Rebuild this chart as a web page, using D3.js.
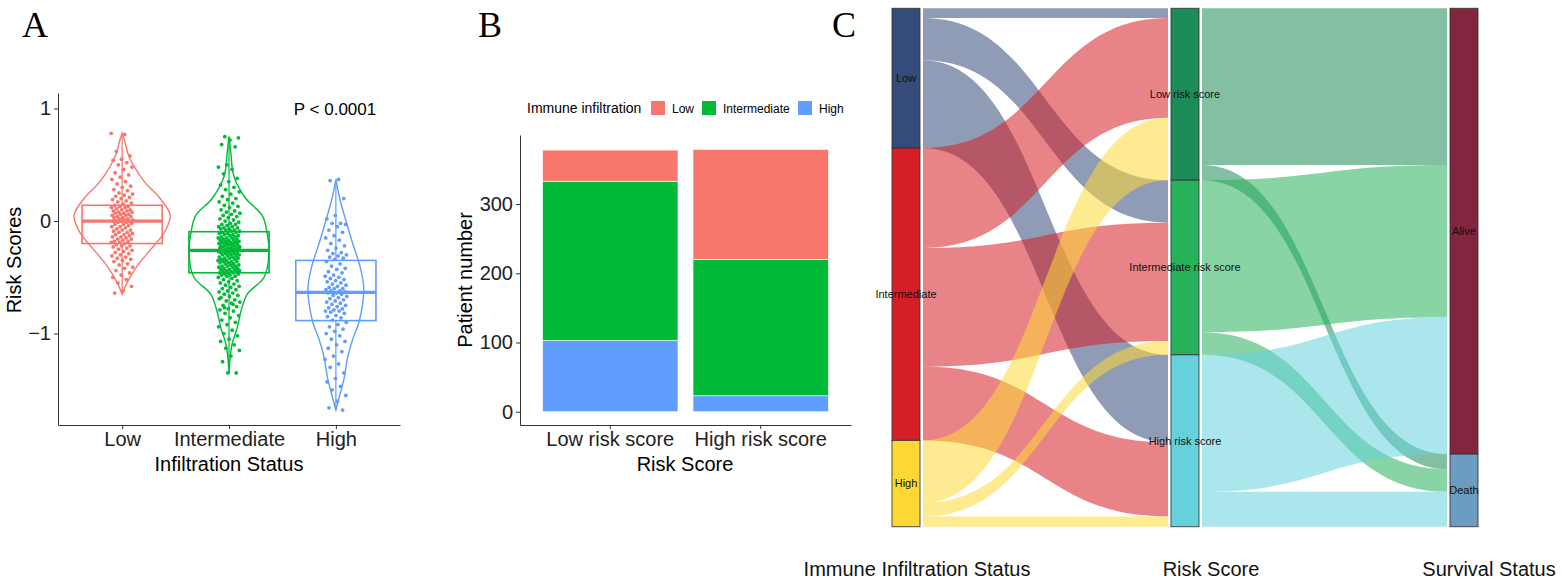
<!DOCTYPE html>
<html>
<head>
<meta charset="utf-8">
<script src="https://d3js.org/d3.v7.min.js"></script>
<style>
  body { margin: 0; background: #fff; }
  text { font-family: "Liberation Sans", Arial, sans-serif; }
</style>
</head>
<body>
<div id="chart"></div>
<script>
// ---------- data: panel A ----------
const infilGroups = ["Low", "Intermediate", "High"];
const infilColors = ["#F8766D", "#00BA38", "#619CFF"];

// box stats [min, q1, median, q3, max]
const boxLow = [-0.65, -0.2, 0.0, 0.14, 0.78];
const boxInt = [-1.35, -0.46, -0.26, -0.095, 0.75];
const boxHigh = [-1.68, -0.885, -0.635, -0.35, 0.37];

// violin density: [score, relative density]
const violinLow = [[0.78,0],[0.7,0.06],[0.6,0.12],[0.5,0.23],[0.35,0.46],[0.2,0.79],[0.05,1.0],[-0.1,0.88],[-0.25,0.6],[-0.4,0.31],[-0.55,0.1],[-0.65,0]];
const violinInt = [[0.75,0],[0.6,0.04],[0.4,0.1],[0.2,0.35],[0.05,0.69],[-0.1,0.79],[-0.3,0.83],[-0.5,0.73],[-0.65,0.38],[-0.8,0.25],[-0.95,0.17],[-1.1,0.06],[-1.35,0]];
const violinHigh = [[0.37,0],[0.2,0.08],[0,0.21],[-0.2,0.35],[-0.4,0.5],[-0.6,0.58],[-0.9,0.48],[-1.05,0.35],[-1.2,0.25],[-1.4,0.17],[-1.55,0.08],[-1.68,0]];

// patient risk scores (estimated)
const pointsLow = [0.78,0.77,0.62,0.58,0.55,0.54,0.52,0.5,0.48,0.46,0.43,0.41,0.39,0.37,0.35,0.33,0.31,0.3,0.28,0.27,0.25,0.24,0.23,0.22,0.21,0.2,0.19,0.18,0.17,0.16,0.15,
  0.14,0.13,0.13,0.12,0.12,0.11,0.1,0.1,0.09,0.09,0.08,0.08,0.07,0.07,0.06,0.06,0.05,0.05,0.04,0.04,0.03,0.03,0.02,0.02,0.01,0.01,0,0,0,0,
  -0.01,-0.01,-0.02,-0.03,-0.03,-0.04,-0.05,-0.05,-0.06,-0.07,-0.08,-0.08,-0.09,-0.1,-0.1,-0.11,-0.12,-0.12,-0.13,-0.14,-0.14,-0.15,-0.16,-0.16,-0.17,-0.18,-0.18,-0.19,-0.19,-0.2,
  -0.21,-0.22,-0.22,-0.23,-0.24,-0.25,-0.26,-0.27,-0.28,-0.29,-0.3,-0.31,-0.32,-0.33,-0.34,-0.35,-0.36,-0.38,-0.39,-0.41,-0.42,-0.44,-0.46,-0.48,-0.5,-0.52,-0.55,-0.58,-0.62,-0.64];
const pointsInt = [0.75,0.74,0.72,0.68,0.66,0.5,0.48,0.46,0.42,0.38,0.35,0.32,0.3,0.28,0.26,0.24,0.22,0.2,0.19,0.17,0.16,0.14,0.13,0.12,0.1,0.09,0.08,0.07,0.06,0.05,0.04,0.03,0.02,0.01,0,-0.01,-0.02,-0.03,-0.03,-0.04,-0.05,-0.05,-0.06,-0.06,-0.07,-0.07,-0.08,-0.08,-0.09,-0.09,
  -0.1,-0.1,-0.11,-0.11,-0.12,-0.12,-0.13,-0.13,-0.14,-0.14,-0.15,-0.15,-0.15,-0.16,-0.16,-0.17,-0.17,-0.17,-0.18,-0.18,-0.19,-0.19,-0.19,-0.2,-0.2,-0.2,-0.21,-0.21,-0.21,-0.22,-0.22,-0.22,-0.23,-0.23,-0.23,-0.24,-0.24,-0.24,-0.25,-0.25,-0.25,-0.25,-0.26,-0.26,-0.26,-0.27,-0.27,-0.27,-0.28,-0.28,
  -0.28,-0.29,-0.29,-0.3,-0.3,-0.3,-0.31,-0.31,-0.32,-0.32,-0.33,-0.33,-0.33,-0.34,-0.34,-0.35,-0.35,-0.36,-0.36,-0.36,-0.37,-0.37,-0.38,-0.38,-0.39,-0.39,-0.4,-0.4,-0.4,-0.41,-0.41,-0.42,-0.42,-0.43,-0.43,-0.43,-0.44,-0.44,-0.45,-0.45,-0.45,-0.46,-0.46,-0.46,-0.47,-0.47,-0.48,-0.48,-0.49,-0.49,
  -0.5,-0.51,-0.52,-0.53,-0.54,-0.55,-0.56,-0.57,-0.58,-0.59,-0.6,-0.61,-0.62,-0.63,-0.64,-0.65,-0.66,-0.67,-0.68,-0.7,-0.71,-0.72,-0.73,-0.75,-0.76,-0.78,-0.79,-0.8,-0.82,-0.84,-0.86,-0.88,-0.9,-0.92,-0.94,-0.97,-1.0,-1.02,-1.05,-1.07,-1.1,-1.13,-1.15,-1.2,-1.25,-1.35,-1.35,-0.69,-0.74,-0.77];
const pointsHigh = [0.37,0.36,0.2,0.05,0.02,-0.02,-0.02,-0.03,-0.05,-0.08,-0.1,-0.13,-0.15,-0.17,-0.2,-0.22,-0.24,-0.26,-0.28,-0.29,-0.3,-0.31,-0.32,-0.33,-0.34,
  -0.36,-0.38,-0.4,-0.42,-0.43,-0.45,-0.46,-0.48,-0.49,-0.5,-0.51,-0.52,-0.53,-0.54,-0.55,-0.56,-0.57,-0.58,-0.59,-0.6,-0.6,-0.61,-0.62,-0.62,-0.63,
  -0.64,-0.64,-0.65,-0.66,-0.67,-0.68,-0.69,-0.7,-0.71,-0.72,-0.73,-0.74,-0.75,-0.76,-0.77,-0.78,-0.79,-0.8,-0.8,-0.81,-0.82,-0.84,-0.85,-0.86,-0.88,
  -0.9,-0.92,-0.94,-0.96,-0.98,-1.0,-1.02,-1.05,-1.07,-1.1,-1.13,-1.16,-1.2,-1.23,-1.27,-1.3,-1.35,-1.4,-1.43,-1.47,-1.5,-1.55,-1.6,-1.66,-1.68];

const yTicksA = [-1, 0, 1];

// ---------- data: panel B ----------
const riskGroupsB = ["Low risk score", "High risk score"];
const barLow = [45, 159];
const barInt = [230, 197];
const barHigh = [103, 23];
const yTicksB = [0, 100, 200, 300];

// ---------- data: panel C ----------
const immuneNodes = ["Low", "Intermediate", "High"];
const riskNodes = ["Low risk score", "Intermediate risk score", "High risk score"];
const survivalNodes = ["Alive", "Death"];
// rows: immune group, cols: risk group
const immuneToRisk = [[14, 62, 128], [146, 173, 108], [91, 20, 15]];
// rows: risk group, cols: survival
const riskToSurvival = [[229, 22], [222, 33], [200, 51]];
const immuneColors = ["#354B79", "#D51F27", "#FDD835"];
const riskColors = ["#1D8C58", "#27B15B", "#66D1DD"];
const survivalColors = ["#82253F", "#6D9CC3"];
const columnTitles = ["Immune Infiltration Status", "Risk Score", "Survival Status"];

const svg = d3.select("#chart").append("svg")
    .attr("width", 1562)
    .attr("height", 584);

// panel letters
[["A", 22], ["B", 478], ["C", 832]].forEach(([t, x]) => {
    svg.append("text")
        .attr("x", x).attr("y", 37)
        .style("font-family", "'Liberation Serif', 'Times New Roman', serif")
        .style("font-size", "36px")
        .text(t);
});

// ===========================
// PANEL A
// ===========================
const gA = svg.append("g");
const xA = d3.scalePoint().domain(infilGroups).range([58, 400]).padding(0.6);
const yA = d3.scaleLinear().domain([-1.813, 1.138]).range([425, 93]);
const stepA = xA.step();

const groupsA = [
    { name: "Low", box: boxLow, violin: violinLow, pts: pointsLow },
    { name: "Intermediate", box: boxInt, violin: violinInt, pts: pointsInt },
    { name: "High", box: boxHigh, violin: violinHigh, pts: pointsHigh }
];

groupsA.forEach((g, gi) => {
    const cx = xA(g.name);
    const col = infilColors[gi];
    const half = 0.45 * stepA;

    const area = d3.area()
        .curve(d3.curveCatmullRom)
        .y(d => yA(d[0]))
        .x0(d => cx - d[1] * half)
        .x1(d => cx + d[1] * half);

    gA.append("path")
        .attr("d", area(g.violin))
        .attr("fill", "none")
        .attr("stroke", col)
        .attr("stroke-width", 1.4);

    const bw = 0.75 * stepA;
    const [mn, q1, md, q3, mx] = g.box;

    gA.append("line")
        .attr("x1", cx).attr("x2", cx)
        .attr("y1", yA(mx)).attr("y2", yA(q3))
        .attr("stroke", col).attr("stroke-width", 1.2);
    gA.append("line")
        .attr("x1", cx).attr("x2", cx)
        .attr("y1", yA(q1)).attr("y2", yA(mn))
        .attr("stroke", col).attr("stroke-width", 1.2);

    // jittered points (deterministic spread)
    gA.selectAll(null)
        .data(g.pts)
        .enter()
        .append("circle")
        .attr("cx", (d, i) => cx + (((i * 0.6180339 + gi * 0.31) % 1) * 2 - 1) * 11)
        .attr("cy", d => yA(d))
        .attr("r", 1.9)
        .attr("fill", col);

    gA.append("rect")
        .attr("x", cx - bw / 2)
        .attr("width", bw)
        .attr("y", yA(q3))
        .attr("height", yA(q1) - yA(q3))
        .attr("fill", "none")
        .attr("stroke", col)
        .attr("stroke-width", 1.6);

    gA.append("line")
        .attr("x1", cx - bw / 2).attr("x2", cx + bw / 2)
        .attr("y1", yA(md)).attr("y2", yA(md))
        .attr("stroke", col).attr("stroke-width", 3.2);
});

const yAxisA = gA.append("g")
    .attr("transform", "translate(58,0)")
    .call(d3.axisLeft(yA).tickValues(yTicksA).tickSize(4).tickSizeOuter(0)
        .tickFormat(d => d < 0 ? "\u2212" + Math.abs(d) : d));
const xAxisA = gA.append("g")
    .attr("transform", "translate(0,425)")
    .call(d3.axisBottom(xA).tickSize(4).tickSizeOuter(0));

[yAxisA, xAxisA].forEach(ax => {
    ax.selectAll("text").style("font-size", "20px").attr("fill", "#222");
    ax.selectAll("line").attr("stroke", "#333");
    ax.select(".domain").attr("stroke", "#333");
});

gA.append("text")
    .attr("x", 335).attr("y", 115)
    .attr("text-anchor", "middle")
    .style("font-size", "17px")
    .text("P < 0.0001");

gA.append("text")
    .attr("transform", "rotate(-90)")
    .attr("x", -260).attr("y", 21)
    .attr("text-anchor", "middle")
    .style("font-size", "20px")
    .text("Risk Scores");

gA.append("text")
    .attr("x", 229).attr("y", 471)
    .attr("text-anchor", "middle")
    .style("font-size", "20px")
    .text("Infiltration Status");

// ===========================
// PANEL B
// ===========================
const gB = svg.append("g");
const xB = d3.scaleBand().domain(riskGroupsB).range([520, 851])
    .paddingInner(0.1).paddingOuter(0.15);
const yB = d3.scaleLinear().domain([-19.2, 399.8]).range([425, 135]);

const rowsB = riskGroupsB.map((r, i) => ({
    group: r, Low: barLow[i], Intermediate: barInt[i], High: barHigh[i]
}));
const stackB = d3.stack().keys(["High", "Intermediate", "Low"])(rowsB);
const colorB = { Low: infilColors[0], Intermediate: infilColors[1], High: infilColors[2] };

gB.selectAll("g.layer")
    .data(stackB)
    .enter()
    .append("g")
    .attr("class", "layer")
    .attr("fill", d => colorB[d.key])
    .selectAll("rect")
    .data(d => d)
    .enter()
    .append("rect")
    .attr("x", d => xB(d.data.group))
    .attr("width", xB.bandwidth())
    .attr("y", d => yB(d[1]))
    .attr("height", d => yB(d[0]) - yB(d[1]))
    .attr("stroke", "#fff")
    .attr("stroke-width", 0.6);

const yAxisB = gB.append("g")
    .attr("transform", "translate(520,0)")
    .call(d3.axisLeft(yB).tickValues(yTicksB).tickSize(4).tickSizeOuter(0));
const xAxisB = gB.append("g")
    .attr("transform", "translate(0,425)")
    .call(d3.axisBottom(xB).tickSize(4).tickSizeOuter(0));

[yAxisB, xAxisB].forEach(ax => {
    ax.selectAll("text").style("font-size", "20px").attr("fill", "#222");
    ax.selectAll("line").attr("stroke", "#333");
    ax.select(".domain").attr("stroke", "#333");
});

gB.append("text")
    .attr("transform", "rotate(-90)")
    .attr("x", -280).attr("y", 472)
    .attr("text-anchor", "middle")
    .style("font-size", "20px")
    .text("Patient number");

gB.append("text")
    .attr("x", 685).attr("y", 471)
    .attr("text-anchor", "middle")
    .style("font-size", "20px")
    .text("Risk Score");

// legend
const legB = gB.append("g").attr("transform", "translate(527,108)");
legB.append("text").attr("x", 0).attr("y", 5).style("font-size", "14px").text("Immune infiltration");
const legItems = [["Low", 124, 145], ["Intermediate", 175, 196], ["High", 271, 292]];
legItems.forEach(([k, kx, tx]) => {
    legB.append("rect").attr("x", kx).attr("y", -7).attr("width", 14).attr("height", 14).attr("fill", colorB[k]);
    legB.append("text").attr("x", tx).attr("y", 4.5).style("font-size", "12px").text(k);
});

// ===========================
// PANEL C (alluvial)
// ===========================
const gC = svg.append("g");
const totalC = d3.sum(immuneToRisk.flat());
const yC = d3.scaleLinear().domain([0, totalC]).range([8.3, 526.7]);
const xC = d3.scalePoint().domain(["immune", "risk", "survival"]).range([906, 1464]);
const nodeW = 28;
const linkGap = 3;

function stackNodes(totals) {
    let acc = 0;
    return totals.map(t => { const n = { y0: acc, y1: acc + t }; acc += t; return n; });
}

const immuneTot = immuneToRisk.map(r => d3.sum(r));
const riskTot = riskNodes.map((_, j) => d3.sum(immuneToRisk, r => r[j]));
const survTot = survivalNodes.map((_, k) => d3.sum(riskToSurvival, r => r[k]));

const immuneN = stackNodes(immuneTot);
const riskN = stackNodes(riskTot);
const survN = stackNodes(survTot);

function ribbon(x0, x1, s0, s1, t0, t1) {
    const xm = (x0 + x1) / 2;
    return `M${x0},${s0}C${xm},${s0} ${xm},${t0} ${x1},${t0}` +
        `L${x1},${t1}C${xm},${t1} ${xm},${s1} ${x0},${s1}Z`;
}

function buildLinks(matrix, srcNodes, tgtNodes) {
    const links = [];
    matrix.forEach((row, i) => {
        row.forEach((v, j) => {
            const sOff = d3.sum(row.slice(0, j));
            const tOff = d3.sum(matrix.slice(0, i), r => r[j]);
            links.push({
                src: i, v,
                s0: srcNodes[i].y0 + sOff, s1: srcNodes[i].y0 + sOff + v,
                t0: tgtNodes[j].y0 + tOff, t1: tgtNodes[j].y0 + tOff + v
            });
        });
    });
    return links;
}

const links1 = buildLinks(immuneToRisk, immuneN, riskN);
const links2 = buildLinks(riskToSurvival, riskN, survN);

function drawLinks(links, colA, colB, colors) {
    const x0 = xC(colA) + nodeW / 2 + linkGap;
    const x1 = xC(colB) - nodeW / 2 - linkGap;
    gC.selectAll(null)
        .data(links)
        .enter()
        .append("path")
        .attr("d", d => ribbon(x0, x1, yC(d.s0), yC(d.s1), yC(d.t0), yC(d.t1)))
        .attr("fill", d => colors[d.src])
        .attr("fill-opacity", 0.55);
}

drawLinks(links1, "immune", "risk", immuneColors);
drawLinks(links2, "risk", "survival", riskColors);

function drawNodes(nodes, names, col, colors) {
    const cx = xC(col);
    nodes.forEach((n, i) => {
        gC.append("rect")
            .attr("x", cx - nodeW / 2)
            .attr("width", nodeW)
            .attr("y", yC(n.y0))
            .attr("height", yC(n.y1) - yC(n.y0))
            .attr("fill", colors[i])
            .attr("stroke", "#333")
            .attr("stroke-opacity", 0.85)
            .attr("stroke-width", 1);
    });
    nodes.forEach((n, i) => {
        gC.append("text")
            .attr("x", cx)
            .attr("y", (yC(n.y0) + yC(n.y1)) / 2)
            .attr("dy", "0.35em")
            .attr("text-anchor", "middle")
            .style("font-size", "11px")
            .attr("fill", "#111")
            .text(names[i]);
    });
}

drawNodes(immuneN, immuneNodes, "immune", immuneColors);
drawNodes(riskN, riskNodes, "risk", riskColors);
drawNodes(survN, survivalNodes, "survival", survivalColors);

const titleX = [917, 1211, 1489];
columnTitles.forEach((t, i) => {
    gC.append("text")
        .attr("x", titleX[i]).attr("y", 576)
        .attr("text-anchor", "middle")
        .style("font-size", "20px")
        .attr("fill", "#111")
        .text(t);
});
</script>
</body>
</html>
